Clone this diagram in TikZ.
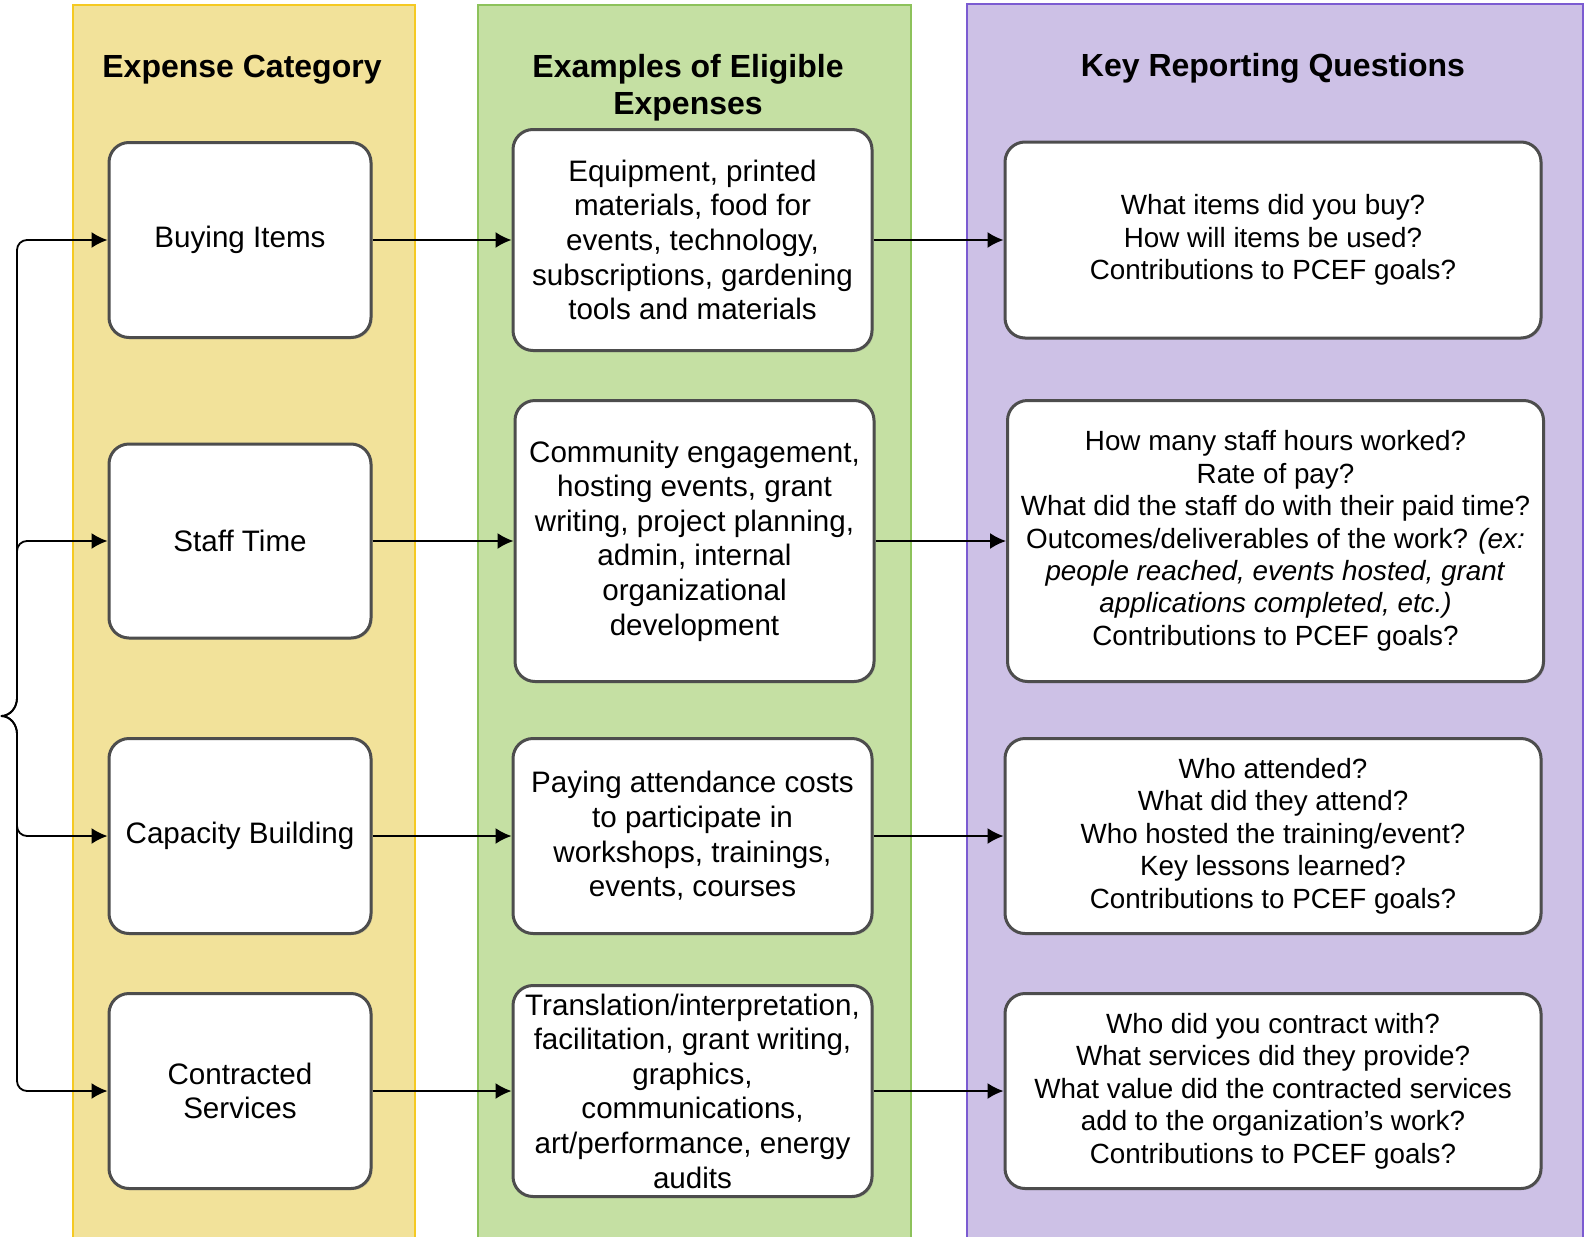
\documentclass[tikz,border=0pt]{standalone}
\usepackage{fontspec}
\setmainfont{Liberation Sans}
\usetikzlibrary{arrows.meta,shadows}
\definecolor{catfill}{HTML}{F2E29A}
\definecolor{catline}{HTML}{F5C922}
\definecolor{exfill}{HTML}{C5E0A3}
\definecolor{exline}{HTML}{8DC25B}
\definecolor{qfill}{HTML}{CDC1E6}
\definecolor{qline}{HTML}{7B5BD1}
\definecolor{boxline}{HTML}{4D4D4D}
\begin{document}
\begin{tikzpicture}[x=0.5pt,y=-0.5pt,
	head/.style={font=\fontsize{16}{18.3}\selectfont\bfseries,align=center},
	box/.style={draw=boxline,line width=1.5pt,rounded corners=10pt,fill=white,align=center,inner sep=0pt,
		drop shadow={shadow xshift=0.8pt,shadow yshift=-0.8pt,opacity=0.25},font=\fontsize{14.8}{17.3}\selectfont},
	qbox/.style={box,font=\fontsize{13.9}{16.2}\selectfont},
	link/.style={-{Latex[length=8pt,width=8pt]},line width=0.9pt}]
	\useasboundingbox (0,0) rectangle (1593,1236);
	% columns
	\draw[fill=catfill,draw=catline,line width=1pt] (73,5) rectangle (415,1240);
	\draw[fill=exfill,draw=exline,line width=1pt] (478,5) rectangle (911,1240);
	\draw[fill=qfill,draw=qline,line width=1pt] (967,4) rectangle (1583,1240);
	\node[head] (hc) at (242,70) {Expense Category};
	\node[head] (he) at (688,88) {Examples of Eligible\\Expenses};
	\node[head] (hq) at (1273,68) {Key Reporting Questions};
	% expense categories
	\node[box,minimum width=131pt,minimum height=97.5pt] (c1) at (240,240) {Buying Items};
	\node[box,minimum width=131pt,minimum height=97pt] (c2) at (240,541) {Staff Time};
	\node[box,minimum width=131pt,minimum height=97.5pt] (c3) at (240,836) {Capacity Building};
	\node[box,minimum width=131pt,minimum height=97.5pt] (c4) at (240,1091) {Contracted\\Services};
	% examples
	\node[box,minimum width=179.5pt,minimum height=110.5pt] (e1) at (692.5,240) {Equipment, printed\\materials, food for\\events, technology,\\subscriptions, gardening\\tools and materials};
	\node[box,minimum width=179.5pt,minimum height=140.5pt] (e2) at (694.5,541) {Community engagement,\\hosting events, grant\\writing, project planning,\\admin, internal\\organizational\\development};
	\node[box,minimum width=179.5pt,minimum height=97.5pt] (e3) at (692.5,836) {Paying attendance costs\\to participate in\\workshops, trainings,\\events, courses};
	\node[box,minimum width=179.5pt,minimum height=105.5pt] (e4) at (692.5,1091) {Translation/interpretation,\\facilitation, grant writing,\\graphics,\\communications,\\art/performance, energy\\audits};
	% questions
	\node[qbox,minimum width=268pt,minimum height=98pt] (q1) at (1273,240) {What items did you buy?\\How will items be used?\\Contributions to PCEF goals?};
	\node[qbox,minimum width=268pt,minimum height=140.5pt] (q2) at (1275.5,541) {How many staff hours worked?\\Rate of pay?\\What did the staff do with their paid time?\\Outcomes/deliverables of the work? \textit{(ex:}\\\textit{people reached, events hosted, grant}\\\textit{applications completed, etc.)}\\Contributions to PCEF goals?};
	\node[qbox,minimum width=268pt,minimum height=97.5pt] (q3) at (1273,836) {Who attended?\\What did they attend?\\Who hosted the training/event?\\Key lessons learned?\\Contributions to PCEF goals?};
	\node[qbox,minimum width=268pt,minimum height=97.5pt] (q4) at (1273,1091) {Who did you contract with?\\What services did they provide?\\What value did the contracted services\\add to the organization's work?\\Contributions to PCEF goals?};
	% arrows across
	\draw[link] (c1) -- (e1);
	\draw[link] (e1) -- (q1);
	\draw[link] (c2) -- (e2);
	\draw[link] (e2) -- (q2);
	\draw[link] (c3) -- (e3);
	\draw[link] (e3) -- (q3);
	\draw[link] (c4) -- (e4);
	\draw[link] (e4) -- (q4);
	% brace
	\coordinate (tip) at (1,716);
	\draw[link] (tip) to[out=0,in=-90] (17,698) [rounded corners=5pt] |- (c1.west);
	\draw[link] (tip) to[out=0,in=-90] (17,698) [rounded corners=5pt] |- (c2.west);
	\draw[link] (tip) to[out=0,in=90] (17,734) [rounded corners=5pt] |- (c3.west);
	\draw[link] (tip) to[out=0,in=90] (17,734) [rounded corners=5pt] |- (c4.west);
\end{tikzpicture}
\end{document}
